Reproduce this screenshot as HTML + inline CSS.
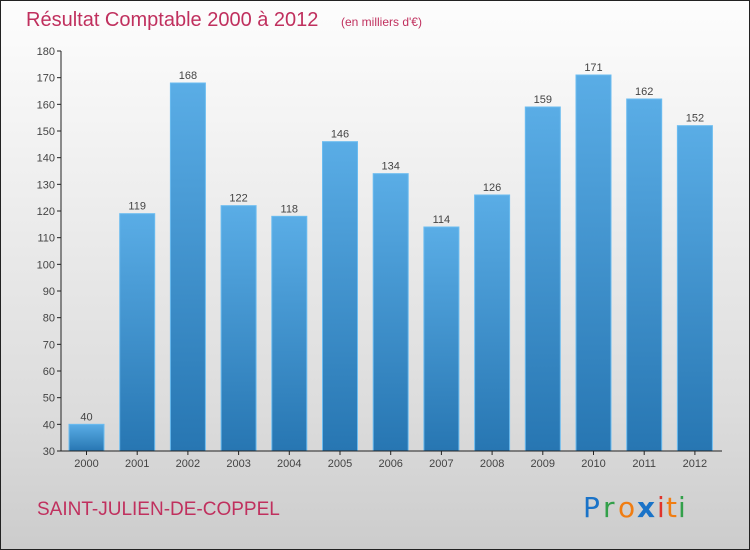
<!DOCTYPE html>
<html><head><meta charset="utf-8"><style>
body{margin:0}
#c{width:748px;height:548px;border:1px solid #222;background:linear-gradient(#fdfdfd,#f0f0f0 30%,#dcdcdc 75%,#cccccc);position:relative;font-family:"Liberation Sans",sans-serif;overflow:hidden}
svg{position:absolute;left:0;top:0}
</style></head><body>
<div id="c">
<svg id="s" width="748" height="548">
<defs><linearGradient id="g" x1="0" y1="0" x2="0" y2="1"><stop offset="0" stop-color="#5aade6"/><stop offset="1" stop-color="#2776b2"/></linearGradient></defs>
<text x="25" y="25" font-size="20" fill="#c0305e">Résultat Comptable 2000 à 2012</text>
<text x="340" y="25" font-size="12" fill="#c0305e">(en milliers d'€)</text>
<text x="36" y="514" font-size="19" fill="#c0305e">SAINT-JULIEN-DE-COPPEL</text>
<g font-size="28" font-family="'DejaVu Sans',sans-serif">
<text x="582" y="516" fill="#1a73c8">P</text><text x="602" y="516" fill="#33a04a">r</text><text x="617" y="516" fill="#f07d12">o</text><text x="636" y="516" fill="#1a73c8" font-weight="bold">x</text><text x="656" y="516" fill="#e0332b">i</text><text x="665" y="516" fill="#f07d12">t</text><text x="677" y="516" fill="#33a04a">i</text>
</g>
</svg></div>
<script>
const categories=["2000","2001","2002","2003","2004","2005","2006","2007","2008","2009","2010","2011","2012"];
const values=[40,119,168,122,118,146,134,114,126,159,171,162,152];
const yTicks=[30,40,50,60,70,80,90,100,110,120,130,140,150,160,170,180];
const NS="http://www.w3.org/2000/svg",s=document.getElementById('s');
const y=v=>450-(v-30)*400/150, x=i=>85.5+i*50.7;
function mk(t,a,txt){const e=document.createElementNS(NS,t);for(const k in a)e.setAttribute(k,a[k]);if(txt!=null)e.textContent=txt;s.appendChild(e);return e;}
yTicks.forEach(v=>{
 const l=mk('line',{x1:56,x2:60,y1:y(v),y2:y(v),stroke:'#222'});
 
 
 const t=mk('text',{x:54,y:y(v)+4,'font-size':11,fill:'#444','text-anchor':'end'},v);
 
 
});
categories.forEach((c,i)=>{
 const r=mk('rect',{x:x(i)-17.5,y:y(values[i]),width:35,height:450-y(values[i]),fill:'url(#g)',stroke:'#6bbcf0','stroke-width':1});
 
 
 const v=mk('text',{x:x(i),y:y(values[i])-4,'font-size':11,fill:'#444','text-anchor':'middle'},values[i]);
 
 
 const tk=mk('line',{x1:x(i),x2:x(i),y1:450,y2:454,stroke:'#222'});
 
 
 const t=mk('text',{x:x(i),y:466,'font-size':11,fill:'#444','text-anchor':'middle'},c);
 
 
});
const ya=mk('line',{x1:60,x2:60,y1:50,y2:450,stroke:'#222'});


const xa=mk('line',{x1:60,x2:721,y1:450,y2:450,stroke:'#222'});


</script>
</body></html>
